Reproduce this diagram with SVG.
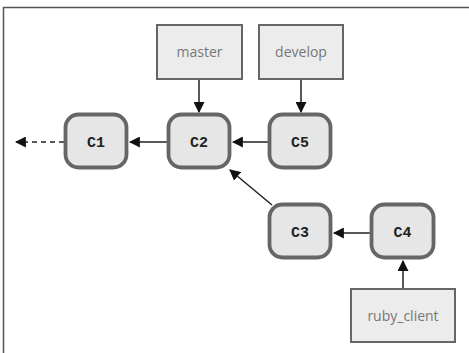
<svg xmlns="http://www.w3.org/2000/svg" width="469" height="353" viewBox="0 0 469 353">
<defs>
<style>
.frame{fill:#fff;stroke:#555;stroke-width:1.5}
.ref{fill:#ececec;stroke:#666;stroke-width:2}
.reft{font-family:"Open Sans","DejaVu Sans",sans-serif;font-size:14px;fill:#777;text-anchor:middle}
.cm{fill:#e6e6e6;stroke:#666;stroke-width:3.8}
.cmt{font-family:"Liberation Mono","DejaVu Sans Mono",monospace;font-weight:bold;font-size:15px;fill:#222;text-anchor:middle}
.ln{stroke:#222;stroke-width:1.5;fill:none}
</style>
<marker id="ah" viewBox="0 0 10 10" refX="9" refY="5" markerWidth="11" markerHeight="11" markerUnits="userSpaceOnUse" orient="auto">
<path d="M0,0 L10,5 L0,10 z" fill="#111"/>
</marker>
</defs>
<rect class="frame" x="3.5" y="7.5" width="480" height="360"/>
<g id="connectors">
<line class="ln" x1="199" y1="79" x2="199" y2="112" marker-end="url(#ah)"/>
<line class="ln" x1="301" y1="79" x2="301" y2="112" marker-end="url(#ah)"/>
<line class="ln" x1="268" y1="142" x2="233" y2="142" marker-end="url(#ah)"/>
<line class="ln" x1="167" y1="142" x2="130" y2="142" marker-end="url(#ah)"/>
<line class="ln" x1="64" y1="142" x2="16" y2="142" stroke-dasharray="5,4" marker-end="url(#ah)"/>
<line class="ln" x1="272" y1="205" x2="230" y2="170" marker-end="url(#ah)"/>
<line class="ln" x1="370" y1="233" x2="334" y2="233" marker-end="url(#ah)"/>
<line class="ln" x1="403" y1="288" x2="403" y2="261" marker-end="url(#ah)"/>
</g>
<g id="master"><rect class="ref" x="157" y="25" width="85" height="54"/><text class="reft" x="199.5" y="57">master</text></g>
<g id="develop"><rect class="ref" x="259" y="25" width="84" height="54"/><text class="reft" x="301" y="57">develop</text></g>
<g id="ruby_client"><rect class="ref" x="351" y="289" width="104" height="53"/><text class="reft" x="403" y="321">ruby_client</text></g>
<g id="C1"><rect class="cm" x="65.5" y="114.5" width="61" height="53" rx="13"/><text class="cmt" x="96" y="147">C1</text></g>
<g id="C2"><rect class="cm" x="168.5" y="114.5" width="61" height="53" rx="13"/><text class="cmt" x="199" y="147">C2</text></g>
<g id="C5"><rect class="cm" x="269.5" y="114.5" width="61" height="53" rx="13"/><text class="cmt" x="300" y="147">C5</text></g>
<g id="C3"><rect class="cm" x="269.5" y="204.5" width="61" height="53" rx="13"/><text class="cmt" x="300" y="237">C3</text></g>
<g id="C4"><rect class="cm" x="371.5" y="204.5" width="62" height="53" rx="13"/><text class="cmt" x="402.5" y="237">C4</text></g>
</svg>
